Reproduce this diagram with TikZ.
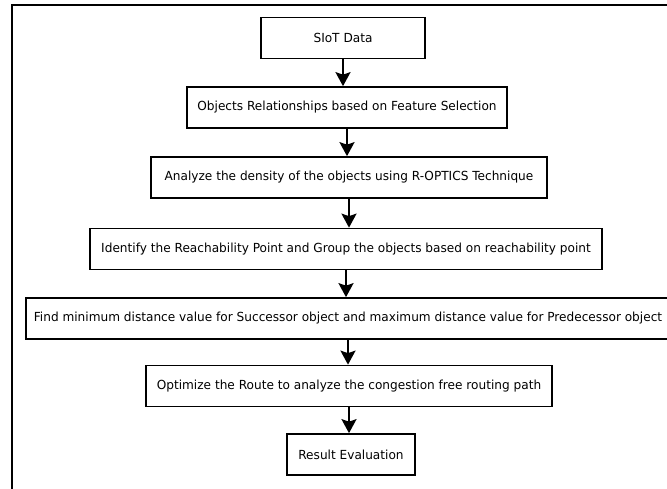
\documentclass[tikz,border=0pt]{standalone}
\usepackage{fontspec}
\setmainfont{DejaVu Sans}[FakeStretch=0.97]
\usetikzlibrary{arrows.meta}
\tikzset{
  stepbox/.style={draw, line width=1.7pt, inner sep=0pt, minimum height=41pt,
    font=\fontsize{12.5}{15}\selectfont, anchor=center},
  flow/.style={line width=2pt, -{Stealth[length=14pt,width=15pt,inset=2.5pt]}},
  frame/.style={line width=2.2pt}
}
\begin{document}
\begin{tikzpicture}[x=1pt,y=-1pt]
  \useasboundingbox (0,0) rectangle (667,488);
  \clip (0,0) rectangle (667,488);
  \draw[frame] (12,5) rectangle (720,540);

  \node[stepbox, minimum width=164pt] (b1) at (343,38) {SIoT Data};
  \node[stepbox, minimum width=320pt] (b2) at (347,107.5) {Objects Relationships based on Feature Selection};
  \node[stepbox, minimum width=396pt] (b3) at (349,177.5) {Analyze the density of the objects using R-OPTICS Technique};
  \node[stepbox, minimum width=512pt] (b4) at (346,249) {Identify the Reachability Point and Group the objects based on reachability point};
  \node[stepbox, minimum width=644pt] (b5) at (348,318.5) {Find minimum distance value for Successor object and maximum distance value for Predecessor object};
  \node[stepbox, minimum width=406pt] (b6) at (349,386) {Optimize the Route to analyze the congestion free routing path};
  \node[stepbox, minimum width=128pt] (b7) at (351,454.5) {Result Evaluation};

  \foreach \a/\b in {b1/b2, b2/b3, b3/b4, b4/b5, b5/b6, b6/b7}
    \draw[flow] (\a.south) -- (\a.south |- \b.north);
\end{tikzpicture}
\end{document}
